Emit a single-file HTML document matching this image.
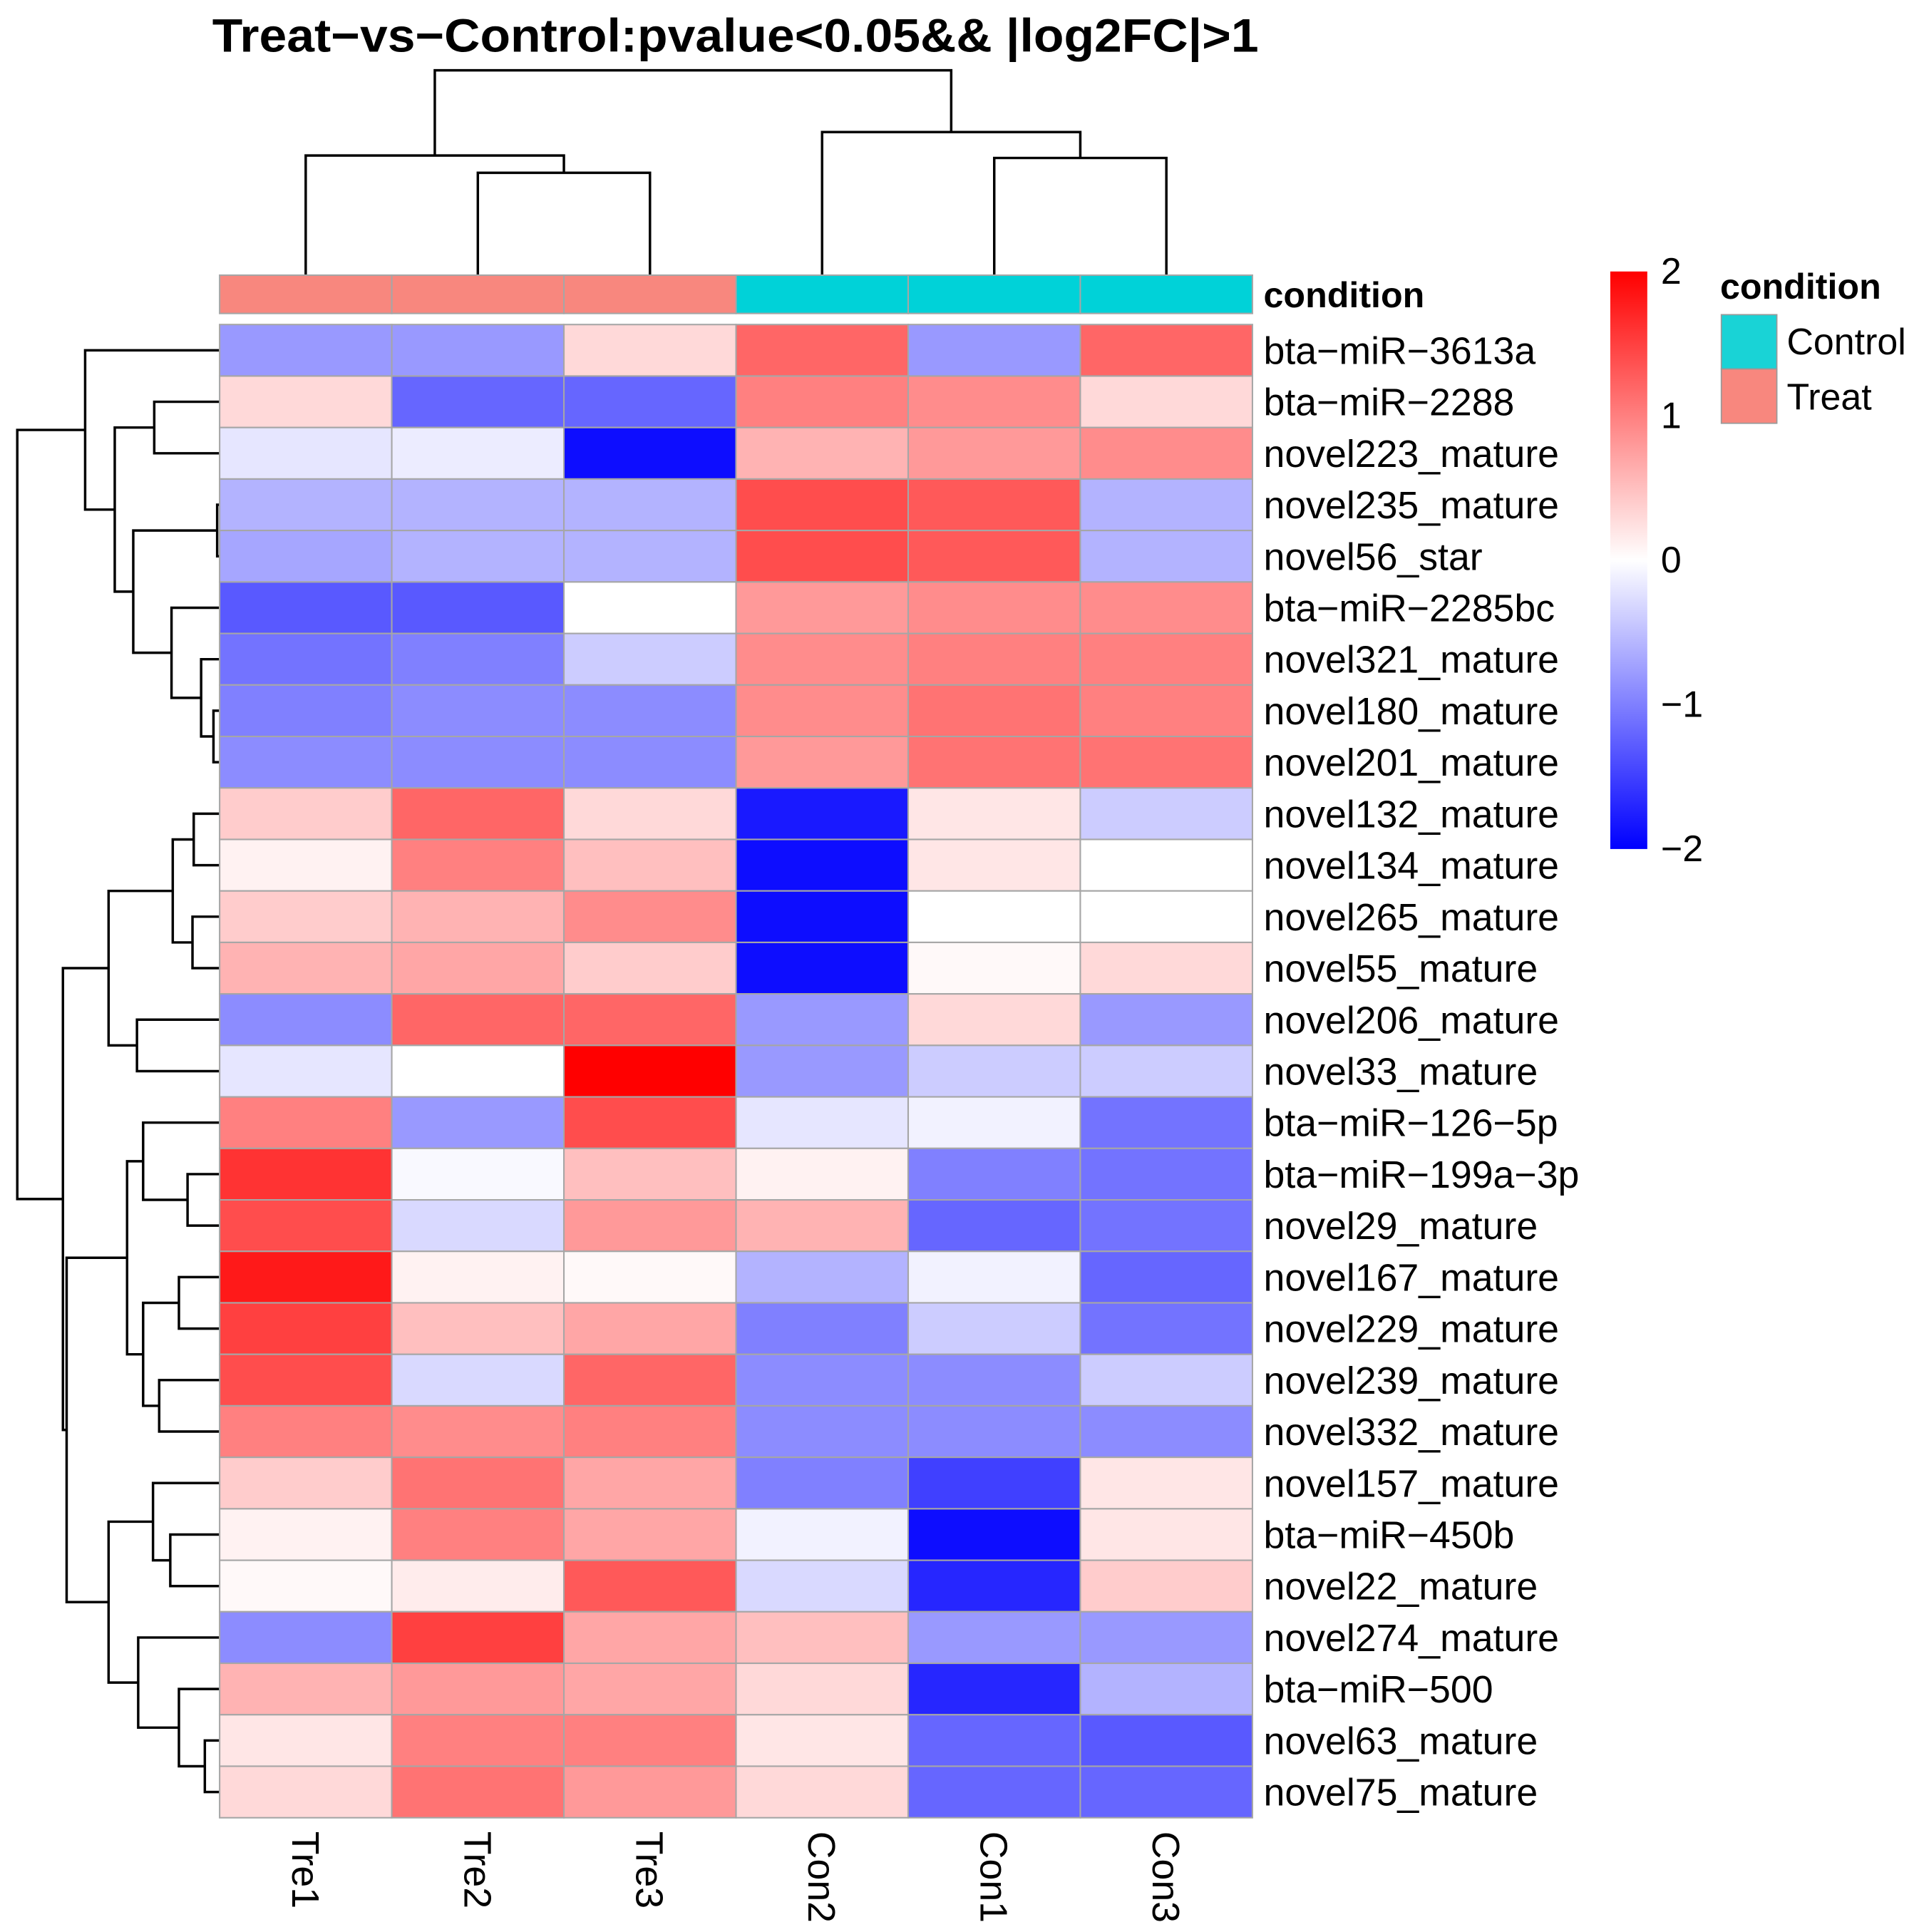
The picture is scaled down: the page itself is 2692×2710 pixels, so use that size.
<!DOCTYPE html>
<html><head><meta charset="utf-8"><style>
html,body{margin:0;padding:0;background:#fff;}
svg{display:block;}
text{font-family:"Liberation Sans",sans-serif;}
</style></head><body>
<svg id="chart" width="2692" height="2710" viewBox="0 0 1555.2 1565.6" xmlns="http://www.w3.org/2000/svg">
<rect x="0" y="0" width="1555.2" height="1565.6" fill="#fff"/>
<text x="172" y="42" font-size="38" font-weight="bold" textLength="848" lengthAdjust="spacingAndGlyphs">Treat−vs−Control:pvalue&lt;0.05&amp;&amp; |log2FC|&gt;1</text>
<g id="dendTop" fill="none" stroke="#000" stroke-width="2"></g>
<g id="dendLeft" fill="none" stroke="#000" stroke-width="2"></g>
<g id="annot"></g>
<g id="cells"></g>
<g id="rowLabels"></g>
<g id="colLabels"></g>
<text x="1024" y="249" font-size="29" font-weight="bold">condition</text>
<defs><linearGradient id="cbg" x1="0" y1="1" x2="0" y2="0">
<stop offset="0" stop-color="#0000ff"/><stop offset="0.5" stop-color="#ffffff"/><stop offset="1" stop-color="#ff0000"/></linearGradient></defs>
<rect x="1305" y="220" width="30" height="468" fill="url(#cbg)"/>
<g id="cbTicks"></g>
<text x="1394" y="242" font-size="29" font-weight="bold">condition</text>
<rect x="1395" y="255" width="45" height="44" fill="#00ced1" fill-opacity="0.9" stroke="#999" stroke-width="1"/>
<rect x="1395" y="299" width="45" height="44" fill="#f8877e" stroke="#999" stroke-width="1"/>
<text x="1448" y="287" font-size="30">Control</text>
<text x="1448" y="332" font-size="30">Treat</text>
</svg>
<script>
const rowNames = ["bta-miR-3613a","bta-miR-2288","novel223_mature","novel235_mature","novel56_star","bta-miR-2285bc","novel321_mature","novel180_mature","novel201_mature","novel132_mature","novel134_mature","novel265_mature","novel55_mature","novel206_mature","novel33_mature","bta-miR-126-5p","bta-miR-199a-3p","novel29_mature","novel167_mature","novel229_mature","novel239_mature","novel332_mature","novel157_mature","bta-miR-450b","novel22_mature","novel274_mature","bta-miR-500","novel63_mature","novel75_mature"];
const colNames = ["Tre1","Tre2","Tre3","Con2","Con1","Con3"];
const colGroups = ["Treat","Treat","Treat","Control","Control","Control"];
const tre1 = [-0.8,0.3,-0.2,-0.6,-0.7,-1.3,-1.1,-1.0,-0.9,0.4,0.1,0.4,0.6,-0.9,-0.2,1.0,1.6,1.4,1.8,1.5,1.4,1.0,0.4,0.1,0.05,-0.9,0.6,0.2,0.3];
const tre2 = [-0.8,-1.2,-0.15,-0.6,-0.6,-1.3,-1.0,-0.9,-0.9,1.2,1.0,0.6,0.7,1.2,0.0,-0.8,-0.05,-0.3,0.1,0.5,-0.3,0.9,1.1,1.0,0.15,1.5,0.8,1.0,1.1];
const tre3 = [0.3,-1.2,-1.9,-0.6,-0.6,0.0,-0.4,-0.9,-0.9,0.3,0.5,0.9,0.4,1.2,2.0,1.4,0.5,0.8,0.05,0.7,1.2,1.0,0.7,0.7,1.3,0.7,0.7,1.0,0.8];
const con2 = [1.2,1.0,0.6,1.4,1.4,0.8,0.9,0.9,0.8,-1.8,-1.9,-1.9,-1.9,-0.8,-0.8,-0.2,0.1,0.6,-0.6,-1.0,-0.9,-0.9,-1.0,-0.1,-0.3,0.5,0.3,0.2,0.3];
const con1 = [-0.8,0.9,0.8,1.3,1.3,0.9,1.0,1.1,1.1,0.2,0.2,0.0,0.05,0.3,-0.4,-0.1,-1.0,-1.2,-0.1,-0.4,-0.9,-0.9,-1.5,-1.9,-1.7,-0.8,-1.7,-1.2,-1.2];
const con3 = [1.2,0.3,0.9,-0.6,-0.6,0.9,1.0,1.0,1.1,-0.4,0.0,0.0,0.3,-0.8,-0.4,-1.1,-1.1,-1.1,-1.2,-1.1,-0.4,-0.9,0.2,0.2,0.4,-0.8,-0.6,-1.3,-1.2];
const cbTickValues = [2,1,0,-1,-2];
const cbTickLabels = ["2","1","0","−1","−2"];

const NS="http://www.w3.org/2000/svg";
const series=[tre1,tre2,tre3,con2,con1,con3];
const X0=178,X1=1015,Y0=263,Y1=1473;
const cw=(X1-X0)/colNames.length, rh=(Y1-Y0)/rowNames.length;
function xCol(j){return X0+j*cw;}
function yRow(i){return Y0+i*rh;}
function yCb(v){return 220+(2-v)/4*468;}
function color(v){v=Math.max(-2,Math.min(2,v));let r,g,b;
 if(v<0){const t=(v+2)/2;r=g=Math.round(255*t);b=255;}else{const t=v/2;r=255;g=b=Math.round(255*(1-t));}
 return `rgb(${r},${g},${b})`;}
function el(tag,attrs,parent){const e=document.createElementNS(NS,tag);for(const k in attrs)e.setAttribute(k,attrs[k]);parent.appendChild(e);return e;}

const cells=document.getElementById('cells');
for(let i=0;i<rowNames.length;i++){for(let j=0;j<colNames.length;j++){
 const r=el('rect',{x:xCol(j),y:yRow(i),width:cw,height:rh,fill:color(series[j][i]),stroke:'#a6a6a6','stroke-width':1.2},cells);
 
 }}
const rl=document.getElementById('rowLabels');
for(let i=0;i<rowNames.length;i++){const t=el('text',{x:1024,y:yRow(i)+rh/2+11,'font-size':31},rl);t.textContent=rowNames[i].replace(/-/g,'−');
 
 }
const cl=document.getElementById('colLabels');
for(let j=0;j<colNames.length;j++){const cx=xCol(j)+cw/2;const t=el('text',{x:0,y:0,'font-size':31,transform:`translate(${cx-11},1484) rotate(90)`},cl);t.textContent=colNames[j];
 
 }
const an=document.getElementById('annot');
for(let j=0;j<colNames.length;j++){const r=el('rect',{x:xCol(j),y:223,width:cw,height:31,fill:colGroups[j]==='Treat'?'#f8877e':'#00d2d8',stroke:'#a6a6a6','stroke-width':1.2},an);
 
 }
const cb=document.getElementById('cbTicks');
for(let k=0;k<cbTickValues.length;k++){const t=el('text',{x:1346,y:yCb(cbTickValues[k])+10,'font-size':30},cb);t.textContent=cbTickLabels[k];
 
 }

const colTree=[57,[126,0,[140,1,2]],[107,3,[128,4,5]]];
const rowTree=[14,
 [69,0,[93,[125,1,2],[108,[176,3,4],[139,5,[163,6,[173,7,8]]]]]],
 [51,[88,[140,[157,9,10],[156,11,12]],[111,13,14]],
  [54,[103,[116,15,[152,16,17]],[116,[145,18,19],[129,20,21]]],
      [88,[124,22,[138,23,24]],[112,25,[145,26,[166,27,28]]]]]]];
const dt=document.getElementById('dendTop'), dl=document.getElementById('dendLeft');
function drawCol(n){if(typeof n==='number')return [xCol(n)+cw/2,223];
 const a=drawCol(n[1]),b=drawCol(n[2]),h=n[0];
 el('path',{d:`M${a[0]},${a[1]}V${h}H${b[0]}V${b[1]}`},dt);return [(a[0]+b[0])/2,h];}
function drawRow(n){if(typeof n==='number')return [X0,yRow(n)+rh/2];
 const a=drawRow(n[1]),b=drawRow(n[2]),h=n[0];
 el('path',{d:`M${a[0]},${a[1]}H${h}V${b[1]}H${b[0]}`},dl);return [h,(a[1]+b[1])/2];}
drawCol(colTree);drawRow(rowTree);
</script>
</body></html>
